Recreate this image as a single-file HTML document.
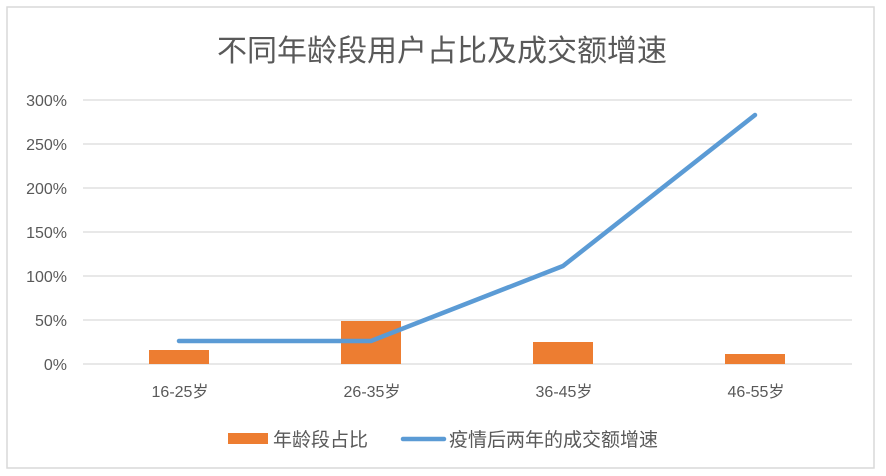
<!DOCTYPE html>
<html><head><meta charset="utf-8"><style>
html,body{margin:0;padding:0;background:#fff;}
svg{display:block;}
text{font-family:"Liberation Sans","Noto Sans CJK SC",sans-serif;fill:#595959;}
</style></head><body>
<svg width="886" height="476" viewBox="0 0 886 476" xmlns="http://www.w3.org/2000/svg">
<rect x="7" y="7" width="867" height="461" fill="#fff" stroke="#d9d9d9" stroke-width="1.5"/>
<text x="442" y="61" font-size="30" text-anchor="middle">不同年龄段用户占比及成交额增速</text>
<g stroke="#d9d9d9" stroke-width="1.3">
<line x1="83" x2="852" y1="100" y2="100"/><line x1="83" x2="852" y1="144" y2="144"/>
<line x1="83" x2="852" y1="188" y2="188"/><line x1="83" x2="852" y1="232" y2="232"/>
<line x1="83" x2="852" y1="276" y2="276"/><line x1="83" x2="852" y1="320" y2="320"/>
<line x1="83" x2="852" y1="364" y2="364"/>
</g>
<g font-size="16" text-anchor="end">
<text x="67" y="106">300%</text><text x="67" y="150">250%</text><text x="67" y="194">200%</text>
<text x="67" y="238">150%</text><text x="67" y="282">100%</text><text x="67" y="326">50%</text>
<text x="67" y="370">0%</text>
</g>
<g fill="#ed7d31">
<rect x="149" y="350" width="60" height="14"/>
<rect x="341" y="321" width="60" height="43"/>
<rect x="533" y="342" width="60" height="22"/>
<rect x="725" y="354" width="60" height="10"/>
</g>
<polyline points="179,341 371,341 563,266 755,115" fill="none" stroke="#5b9bd5" stroke-width="4.5" stroke-linecap="round" stroke-linejoin="round"/>
<g font-size="16" text-anchor="middle">
<text x="180" y="397">16-25岁</text><text x="372" y="397">26-35岁</text>
<text x="564" y="397">36-45岁</text><text x="756" y="397">46-55岁</text>
</g>
<rect x="228" y="433" width="40" height="11" fill="#ed7d31"/>
<text x="273" y="446" font-size="19">年龄段占比</text>
<line x1="403" x2="444" y1="439" y2="439" stroke="#5b9bd5" stroke-width="4.5" stroke-linecap="round"/>
<text x="449" y="446" font-size="19">疫情后两年的成交额增速</text>
</svg>
</body></html>
